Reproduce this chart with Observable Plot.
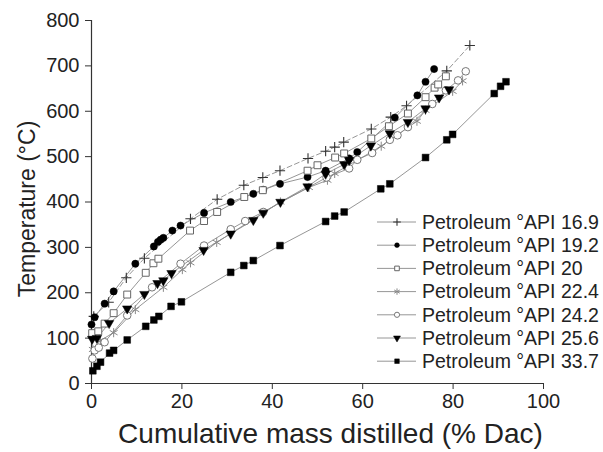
<!DOCTYPE html>
<html>
<head>
<meta charset="utf-8">
<script src="https://cdn.jsdelivr.net/npm/d3@7"></script>
<script src="https://cdn.jsdelivr.net/npm/@observablehq/plot@0.6"></script>
<style>
  html, body { margin: 0; padding: 0; background: #fff; }
  #chart { width: 603px; height: 452px; }
</style>
</head>
<body>
<div id="chart"></div>
<script>
// ---- data ----
const seriesNames = ["Petroleum °API 16.9", "Petroleum °API 19.2", "Petroleum °API 20",
  "Petroleum °API 22.4", "Petroleum °API 24.2", "Petroleum °API 25.6", "Petroleum °API 33.7"];

const x169 = [0.5, 3.8, 7.7, 11.7, 21.9, 27.8, 33.7, 37.9, 41.7, 47.9, 51.8, 53.8, 55.8, 61.9, 66.2, 69.7, 78.6, 83.7];
const y169 = [148, 179, 233, 276, 363, 406, 437, 454, 469, 496, 512, 521, 532, 561, 587, 612, 689, 745];

const x192 = [0, 0.7, 2.9, 4.9, 9.7, 13.8, 14.7, 15.3, 15.9, 17.9, 19.7, 24.9, 30.8, 35.8, 38.0, 41.7, 47.8, 51.8, 57.0, 58.8, 67.1, 72.1, 73.9, 75.8];
const y192 = [130, 146, 176, 203, 264, 302, 312, 317, 321, 337, 348, 376, 400, 418, 427, 440, 455, 469, 496, 510, 586, 635, 665, 693];

const x20 = [0.15, 1.5, 2.9, 4.9, 7.9, 12.0, 13.7, 14.8, 21.8, 24.9, 27.8, 33.8, 37.9, 47.8, 50.0, 53.9, 55.9, 61.9, 65.8, 70.0, 73.9, 75.9, 76.7, 78.4];
const y20 = [111, 115, 132, 155, 196, 244, 265, 275, 337, 358, 378, 411, 426, 469, 481, 498, 507, 540, 567, 595, 631, 652, 659, 677];

const x224 = [0.3, 2.0, 4.9, 9.7, 15.9, 20.1, 21.9, 27.7, 41.8, 48.1, 52.2, 53.8, 64.1, 72.0, 73.9, 79.9, 82.1];
const y224 = [75, 95, 112, 163, 212, 251, 266, 311, 400, 432, 448, 463, 523, 578, 602, 644, 667];

const x242 = [0.2, 0.7, 1.6, 2.9, 7.9, 13.4, 19.7, 24.9, 30.8, 34.0, 38.0, 52.0, 57.0, 58.8, 62.1, 66.0, 67.7, 70.0, 75.4, 78.4, 81.1, 82.8];
const y242 = [55, 73, 79, 91, 150, 212, 264, 304, 340, 358, 378, 454, 474, 493, 508, 537, 547, 565, 616, 646, 668, 688];

const x256 = [0.15, 1.2, 3.9, 7.9, 11.7, 14.6, 15.9, 17.7, 24.8, 30.8, 35.8, 38.0, 41.8, 47.8, 51.8, 55.9, 57.0, 61.8, 66.0, 70.0, 73.9, 76.9, 79.1];
const y256 = [98, 100, 133, 165, 197, 221, 227, 243, 294, 330, 360, 376, 400, 434, 462, 483, 492, 524, 551, 576, 606, 630, 648];

const x337 = [0.3, 1.2, 2.0, 4.0, 4.9, 7.9, 12.0, 13.8, 14.9, 17.6, 19.9, 30.8, 33.7, 35.8, 41.7, 51.8, 53.8, 55.9, 64.0, 66.0, 73.9, 78.6, 79.9, 89.1, 90.5, 91.7];
const y337 = [28, 38, 47, 67, 73, 96, 126, 140, 148, 170, 180, 245, 260, 271, 304, 357, 369, 378, 429, 440, 498, 537, 549, 639, 655, 665];

const xTicks = [0, 20, 40, 60, 80, 100];
const yTicks = [0, 100, 200, 300, 400, 500, 600, 700, 800];
const xLabel = "Cumulative mass distilled (% Dac)";
const yLabel = "Temperature (°C)";

// ---- styling per series ----
const styles = [
  {symbol: "plus",     fill: "none",  stroke: "#333", r: 3.4, rotate: 0,   dash: "5,3", sw: 1.1, lr: 2.6},
  {symbol: "circle",   fill: "#000",  stroke: "#000", r: 3.6, rotate: 0,   dash: null,  sw: 0.5, lr: 2.4},
  {symbol: "square",   fill: "#fff",  stroke: "#666", r: 3.9, rotate: 0,   dash: null,  sw: 1.0, lr: 2.6},
  {symbol: "asterisk", fill: "none",  stroke: "#888", r: 4.3, rotate: 0,   dash: null,  sw: 1.0, lr: 3.0},
  {symbol: "circle",   fill: "#fff",  stroke: "#777", r: 3.8, rotate: 0,   dash: null,  sw: 1.0, lr: 2.6},
  {symbol: "triangle", fill: "#000",  stroke: "#000", r: 3.5, rotate: 180, dash: null,  sw: 0.5, lr: 2.6},
  {symbol: "square",   fill: "#000",  stroke: "#000", r: 3.8, rotate: 0,   dash: null,  sw: 0.5, lr: 2.6}
];

const xs = [x169, x192, x20, x224, x242, x256, x337];
const ys = [y169, y192, y20, y224, y242, y256, y337];
const tables = xs.map((xa, i) => xa.map((v, j) => ({x: v, y: ys[i][j], s: seriesNames[i]})));

const lineMarks = tables.map((t, i) => Plot.line(t, {
  x: "x", y: "y", stroke: "#8a8a8a", strokeWidth: 0.9,
  strokeDasharray: styles[i].dash || undefined
}));
const dotMarks = tables.map((t, i) => Plot.dot(t, {
  x: "x", y: "y", symbol: styles[i].symbol, r: styles[i].r, rotate: styles[i].rotate,
  fill: styles[i].fill, stroke: styles[i].stroke, strokeWidth: styles[i].sw
}));

const font = "'Liberation Sans', Arial, Helvetica, sans-serif";

const plot = Plot.plot({
  width: 603,
  height: 452,
  marginLeft: 91,
  marginRight: 60,
  marginTop: 20,
  marginBottom: 69,
  style: {fontFamily: font, fontSize: "20px", color: "#222", background: "#fff"},
  x: {domain: [0, 100]},
  y: {domain: [0, 800]},
  marks: [
    Plot.axisX({ticks: xTicks, tickSize: 6, tickPadding: 4, label: null, stroke: "#333"}),
    Plot.axisY({ticks: yTicks, tickSize: 6, tickPadding: 6, label: null, stroke: "#333"}),
    Plot.ruleX([0], {stroke: "#333", strokeWidth: 1.2}),
    Plot.ruleY([0], {stroke: "#333", strokeWidth: 1.2}),
    Plot.text([xLabel], {frameAnchor: "bottom", textAnchor: "middle", dx: 13, dy: 59, fontSize: 28, fill: "#222"}),
    Plot.text([yLabel], {frameAnchor: "left", textAnchor: "middle", rotate: -90, dx: -64, dy: 7, fontSize: 23, fill: "#222"}),
    ...lineMarks,
    ...dotMarks
  ]
});

// ---- legend (inside the plot, lower right) ----
const svg = d3.select(plot);
const symMap = {plus: d3.symbolPlus, circle: d3.symbolCircle, square: d3.symbolSquare,
  asterisk: d3.symbolAsterisk, triangle: d3.symbolTriangle};
const leg = svg.append("g").attr("font-family", font).attr("font-size", 19.5).attr("text-anchor", "start");
seriesNames.forEach((name, i) => {
  const st = styles[i];
  const yy = 222 + i * 23.2;
  const g = leg.append("g").attr("transform", `translate(0,${yy})`);
  g.append("line").attr("x1", 377).attr("x2", 416).attr("y1", 0).attr("y2", 0)
    .attr("stroke", "#8a8a8a").attr("stroke-width", 0.9);
  g.append("path")
    .attr("d", d3.symbol(symMap[st.symbol], Math.PI * st.lr * st.lr)())
    .attr("transform", `translate(397,0) rotate(${st.rotate})`)
    .attr("fill", st.fill).attr("stroke", st.stroke).attr("stroke-width", st.sw);
  g.append("text").attr("x", 422).attr("y", 0).attr("dy", "0.35em")
    .attr("text-anchor", "start").attr("fill", "#222").text(name);
});

document.getElementById("chart").appendChild(plot);
</script>
</body>
</html>
